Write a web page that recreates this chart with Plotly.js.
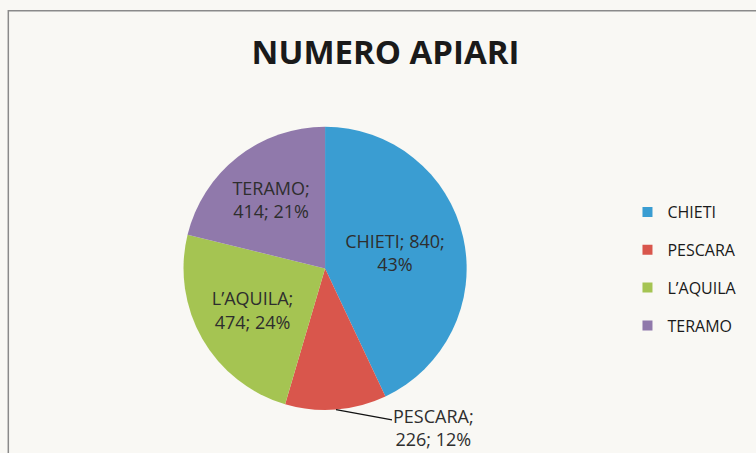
<!DOCTYPE html>
<html>
<head>
<meta charset="utf-8">
<script src="https://cdn.plot.ly/plotly-3.0.1.min.js"></script>
<style>html,body{margin:0;padding:0;background:#f9f8f4;}#chart{width:756px;height:453px;}</style>
</head>
<body>
<div id="chart"></div>
<script>
const categories = ["CHIETI", "PESCARA", "L\u2019AQUILA", "TERAMO"];
const values = [840, 226, 474, 414];
const colors = ["#3a9dd2", "#d9564c", "#a5c452", "#9079ab"];
const labelTemplates = [
  "%{label}; %{value};<br>%{percent:.0%}",
  "",
  "%{label};<br>%{value}; %{percent:.0%}",
  "%{label};<br>%{value}; %{percent:.0%}"
];
const outsideIndex = 1; // PESCARA label drawn outside with a leader line

const FONT = "'Open Sans', sans-serif";
const W = 756, H = 453;
const pieDomX = [0.236, 0.624], pieDomY = [0.095, 0.72];

const pie = {
  type: "pie",
  labels: categories,
  values: values,
  sort: false,
  direction: "clockwise",
  rotation: 0,
  marker: {colors: colors, line: {width: 0}},
  texttemplate: labelTemplates,
  textposition: categories.map((c, i) => i === outsideIndex ? "none" : "inside"),
  insidetextorientation: "horizontal",
  textfont: {family: FONT, size: 18, color: "#2e2e2e"},
  showlegend: false,
  hoverinfo: "label+value+percent",
  domain: {x: pieDomX, y: pieDomY}
};

const legendTraces = categories.map((c, i) => ({
  type: "scatter",
  mode: "markers",
  x: [null], y: [null],
  name: c,
  legendgroup: "g" + i,
  marker: {symbol: "square", size: 10, color: colors[i]},
  showlegend: true,
  hoverinfo: "skip"
}));

// leader-line label for the outside slice, located from the data
const total = values.reduce((a, b) => a + b, 0);
const before = values.slice(0, outsideIndex).reduce((a, b) => a + b, 0);
const midAngle = (before + values[outsideIndex] / 2) / total * 2 * Math.PI;
const cxPx = (pieDomX[0] + pieDomX[1]) / 2 * W;
const cyPx = (1 - (pieDomY[0] + pieDomY[1]) / 2) * H;
const rPx = Math.min((pieDomX[1] - pieDomX[0]) * W, (pieDomY[1] - pieDomY[0]) * H) / 2;
const edgeX = cxPx + rPx * Math.sin(midAngle);
const edgeY = cyPx - rPx * Math.cos(midAngle);
const pct = Math.round(values[outsideIndex] / total * 100);

const layout = {
  width: W, height: H,
  margin: {l: 0, r: 0, t: 0, b: 0},
  paper_bgcolor: "#f9f8f4",
  plot_bgcolor: "rgba(0,0,0,0)",
  title: {
    text: "<b>NUMERO APIARI</b>",
    font: {family: FONT, size: 33, color: "#1a1a1a"},
    x: 0.51, xanchor: "center",
    y: 0.885, yanchor: "middle",
    xref: "paper", yref: "container"
  },
  xaxis: {visible: false},
  yaxis: {visible: false},
  legend: {
    x: 0.83, xanchor: "left",
    y: 0.406, yanchor: "middle",
    traceorder: "grouped",
    tracegroupgap: 14,
    font: {family: FONT, size: 16, color: "#1a1a1a"},
    bgcolor: "rgba(0,0,0,0)"
  },
  annotations: [{
    xref: "paper", yref: "paper",
    x: edgeX / W, y: 1 - edgeY / H,
    text: categories[outsideIndex] + ";<br>" + values[outsideIndex] + "; " + pct + "%",
    showarrow: true, arrowhead: 0, arrowwidth: 1.3, arrowcolor: "#111",
    standoff: 0,
    ax: 98, ay: 18,
    font: {family: FONT, size: 18, color: "#2e2e2e"}
  }],
  shapes: [{
    type: "rect", xref: "paper", yref: "paper",
    x0: 0.011, x1: 1.02, y0: -0.02, y1: 0.976,
    line: {color: "#8a8a8a", width: 1.5},
    fillcolor: "rgba(0,0,0,0)"
  }]
};

Plotly.newPlot("chart", [pie].concat(legendTraces), layout, {staticPlot: true});
</script>
</body>
</html>
